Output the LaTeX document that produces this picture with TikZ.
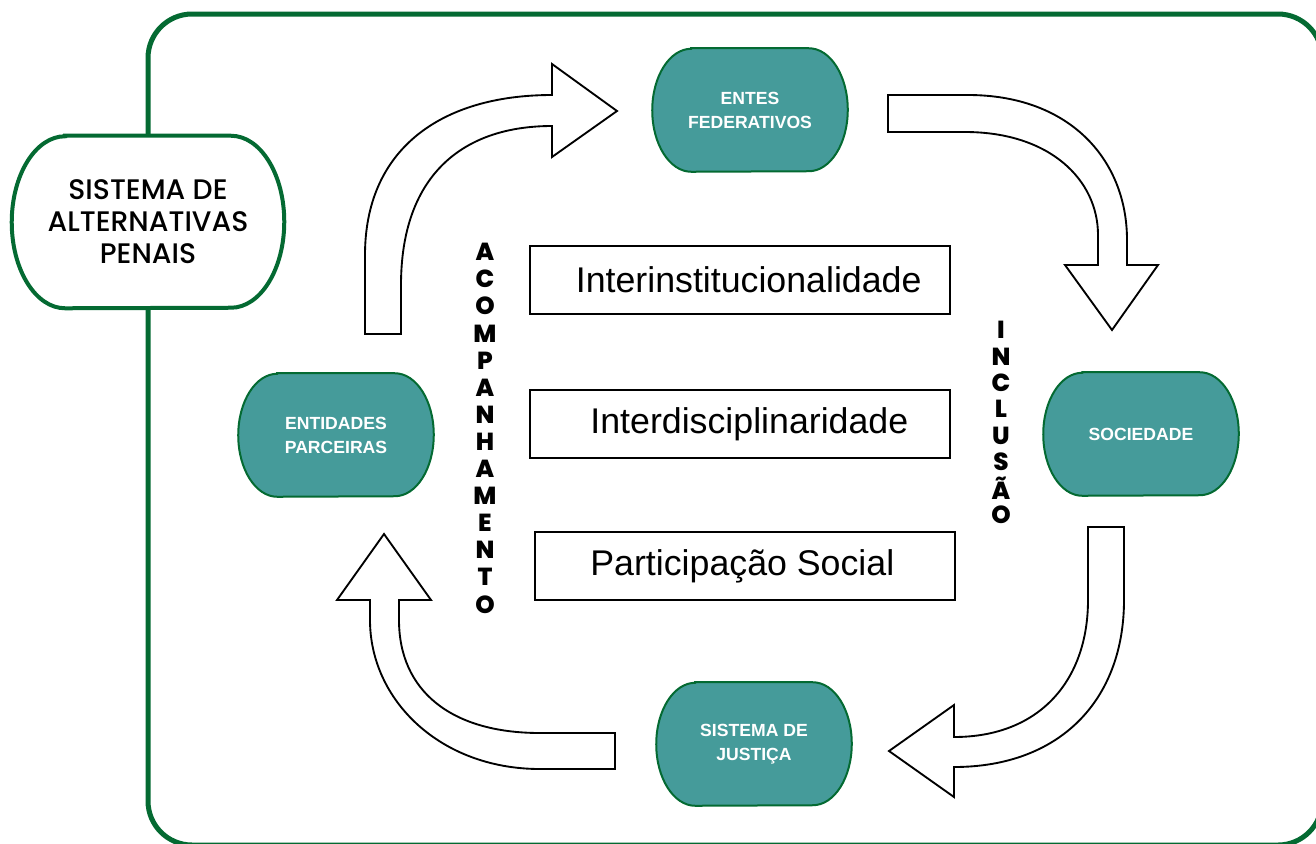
\documentclass[tikz,border=0pt]{standalone}
\usepackage{fontspec}
\setmainfont{Liberation Sans}
\newfontfamily\poppins{Poppins}[BoldFont=* ExtraBold]
\newfontfamily\poppinsmed{Poppins Medium}
\usetikzlibrary{positioning, backgrounds}

\definecolor{framegreen}{RGB}{4,106,50}
\definecolor{tealfill}{RGB}{69,155,154}

% outline with half-ellipse sides around a named node
\newcommand{\capsuleoutline}[4]{%
  \draw[#4] ([xshift=#2]#1.north west) -- ([xshift=-#2]#1.north east)
    arc[start angle=90, end angle=-90, x radius=#2, y radius=#3]
    -- ([xshift=#2]#1.south west)
    arc[start angle=270, end angle=90, x radius=#2, y radius=#3] -- cycle;}

\begin{document}
\begin{tikzpicture}[
        x=0.75pt, y=-0.75pt, on grid,
        every node/.style={inner sep=0pt},
        titlebox/.style={minimum width=204pt, minimum height=129pt, align=center,
          font=\poppinsmed\fontsize{21.2}{24}\selectfont},
        titleline/.style={draw=framegreen, line width=3pt, fill=white},
        capsule/.style={minimum width=146.25pt, minimum height=92.25pt, align=center,
          text=white, font=\bfseries\fontsize{13.2}{18}\selectfont},
        capsuleline/.style={draw=framegreen, line width=1.5pt, fill=tealfill},
        valuebox/.style={draw, line width=1pt, fill=white, minimum width=315pt,
          minimum height=51pt, font=\fontsize{26.8}{30}\selectfont},
        vletter/.style={font=\poppins\bfseries\fontsize{18.5}{18}\selectfont},
        bigarrow/.style={draw, line width=1.4pt, fill=white, line join=miter},
        ]
  \useasboundingbox (0,0) rectangle (1316,843);
  \clip (0,0) rectangle (1316,843);

  \node[titlebox] (sistema) at (148,222) {SISTEMA DE\\ALTERNATIVAS\\PENAIS};

  \node[capsule] (entes)     at (750,110) {ENTES\\FEDERATIVOS};
  \node[capsule] (entidades) at (336,435) {ENTIDADES\\PARCEIRAS};
  \node[capsule] (sociedade) at (1141,434) {SOCIEDADE};
  \node[capsule] (justica)   at (754,744) {SISTEMA DE\\JUSTIÇA};

  \node[valuebox] (box_1) at (740,280) {\hspace*{13pt}Interinstitucionalidade};
  \node[valuebox] (box_2) [below=108pt of box_1] {\hspace*{14pt}Interdisciplinaridade};
  \node[valuebox] (box_3) [below=106.5pt of box_2, xshift=3.75pt] {Participação Social\hspace*{4pt}};

  \foreach \ch [count=\i] in {A,C,O,M,P,A,N,H,A,M,E,N,T,O}
    \node[vletter] (acomp_\i) at (485,{252+27.1*(\i-1)}) {\ch};
  \foreach \ch [count=\i] in {I,N,C,L,U,S,Ã,O}
    \node[vletter] (incl_\i) at (1001,{330+26.4*(\i-1)}) {\ch};

  \begin{scope}[on background layer]
    \draw[framegreen, line width=3.75pt, rounded corners=33pt] (148,14) rectangle (1322,845);
    \capsuleoutline{sistema}{40pt}{64.5pt}{titleline}
    \foreach \n in {entes,entidades,sociedade,justica}
      {\capsuleoutline{\n}{29.25pt}{46.125pt}{capsuleline}}
  \end{scope}

  % curved block arrows
  \draw[bigarrow] (365,334) -- (365,255) .. controls (365,150) and (440,95) .. (552,95)
    -- (552,64) -- (617,111) -- (552,157) -- (552,126)
    .. controls (460,126) and (401,178) .. (401,285) -- (401,334) -- cycle;
  \draw[bigarrow] (888,95) -- (968,95) .. controls (1070,95) and (1127,160) .. (1127,240)
    -- (1127,265) -- (1158,265) -- (1112,330) -- (1065,265) -- (1098,265) -- (1098,235)
    .. controls (1098,180) and (1050,132) .. (965,132) -- (888,132) -- cycle;
  \draw[bigarrow] (1088,527) -- (1124,527) -- (1124,600) .. controls (1124,700) and (1060,767) .. (954,767)
    -- (954,797) -- (889,751) -- (954,705) -- (954,737)
    .. controls (1040,737) and (1088,680) .. (1088,600) -- cycle;
  \draw[bigarrow] (615,733) -- (615,769) -- (540,769) .. controls (440,769) and (370,700) .. (370,620)
    -- (370,600) -- (337,600) -- (384,534) -- (431,600) -- (399,600) -- (399,620)
    .. controls (399,690) and (450,733) .. (540,733) -- cycle;
\end{tikzpicture}
\end{document}
